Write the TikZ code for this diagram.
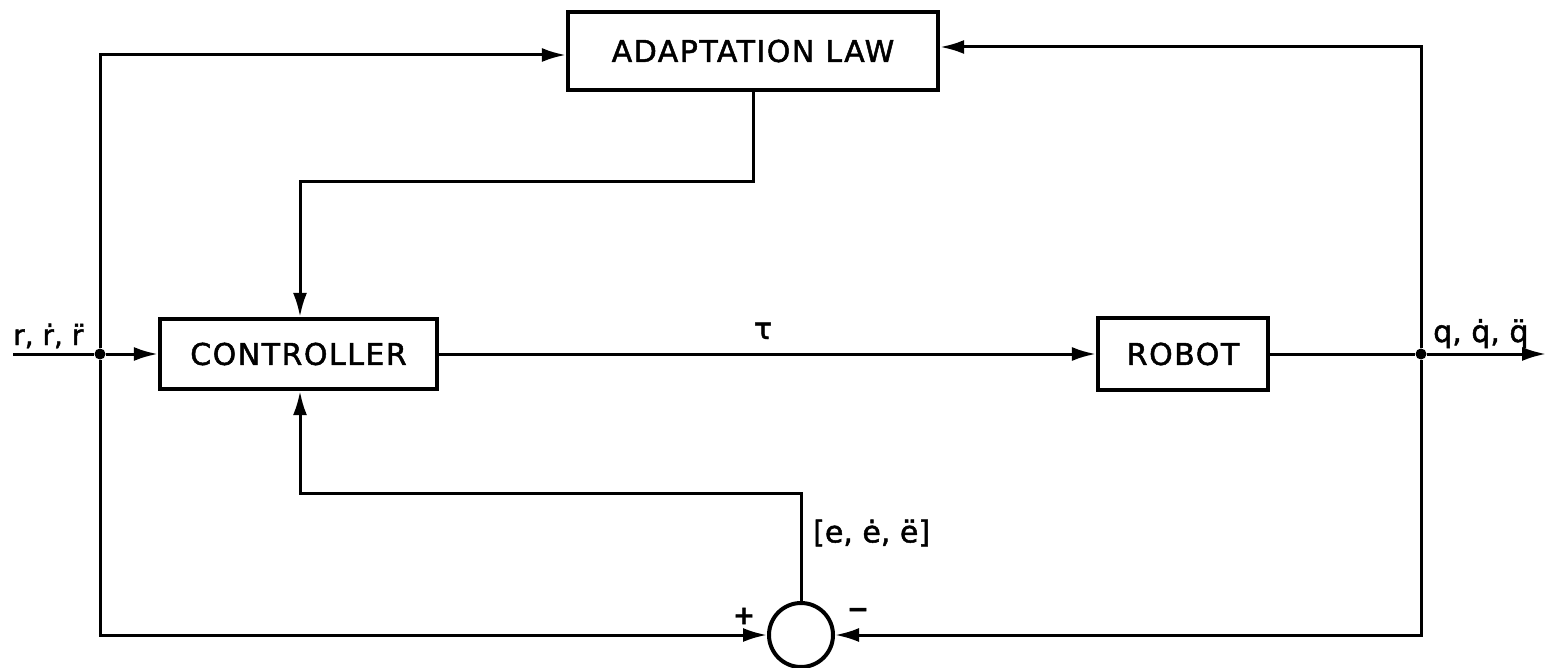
\documentclass[tikz,border=0pt]{standalone}
\usepackage{fontspec}
\setmainfont{DejaVu Sans}
\newfontfamily\letterfam[LetterSpace=5,FakeBold=1.6]{DejaVu Sans}
\newfontfamily\labelfam[FakeBold=1.6]{DejaVu Sans}
\newcommand{\blkfont}{\letterfam\fontsize{30}{36}\selectfont}
\newcommand{\lblfont}{\labelfam\fontsize{30}{36}\selectfont}
\usetikzlibrary{arrows.meta}
\begin{document}
\begin{tikzpicture}[x=1pt,y=-1pt,
  blk/.style={draw,line width=4.2pt,inner sep=0pt,font=\blkfont},
  conn/.style={line width=3pt},
  arr/.style={conn,-{Latex[length=24pt,width=14pt]}},
  jdot/.style={circle,fill,inner sep=0pt,minimum size=11pt},
  lbl/.style={inner sep=0pt,font=\lblfont},
  sgn/.style={inner sep=0pt,font=\labelfam\bfseries\fontsize{26}{30}\selectfont}]
\useasboundingbox (0,0) rectangle (1547,668);

% blocks
\node[blk,minimum width=370pt,minimum height=78pt] (adapt) at (753,51) {ADAPTATION LAW};
\node[blk,minimum width=277pt,minimum height=70pt] (ctrl) at (298.5,354) {CONTROLLER};
\node[blk,minimum width=170pt,minimum height=72pt] (robot) at (1183,354) {ROBOT};
\node[draw,circle,line width=4pt,minimum size=64pt,inner sep=0pt] (sum) at (801,635) {};

% junctions and free ends
\node[jdot] (jl) at (100,354) {};
\node[jdot] (jr) at (1421,354) {};
\coordinate (in) at (13,354);
\coordinate (out) at (1546,354);
\coordinate (tl) at (100,55);
\coordinate (bl) at (100,635);
\coordinate (tr) at (1421,47);
\coordinate (br) at (1421,635);
\coordinate (a1) at (300,182);
\coordinate (e1) at (300,493);

% connectors
\draw[conn] (in) -- (jl);
\draw[arr] (jl) -- (ctrl.west);
\draw[arr] (jl) -- (tl) -- (tl -| adapt.west);
\draw[arr] (jl) -- (bl) -- (sum.west);
\draw[arr] (ctrl.east) -- (robot.west);
\draw[conn] (robot.east) -- (jr);
\draw[arr] (jr) -- (out);
\draw[arr] (jr) -- (tr) -- (tr -| adapt.east);
\draw[arr] (jr) -- (br) -- (sum.east);
\draw[arr] (adapt.south) |- (a1) -- (a1 |- ctrl.north);
\draw[arr] (sum.north) |- (e1) -- (e1 |- ctrl.south);

% labels
\node[lbl,anchor=base west,font=\labelfam\fontsize{28}{34}\selectfont] (rlbl) at (13,345) {r, ṙ, r^^^^0308};
\node[lbl,anchor=base] (taulbl) at (763,339) {τ};
\node[lbl,anchor=base west] (qlbl) at (1433,342) {q, q^^^^0307, q^^^^0308};
\node[lbl,anchor=west] (elbl) at (813,533) {[e, ė, ë]};
\node[sgn] (plus) at (744,616) {+};
\node[sgn] (minus) at (858,613) {−};
\end{tikzpicture}
\end{document}
